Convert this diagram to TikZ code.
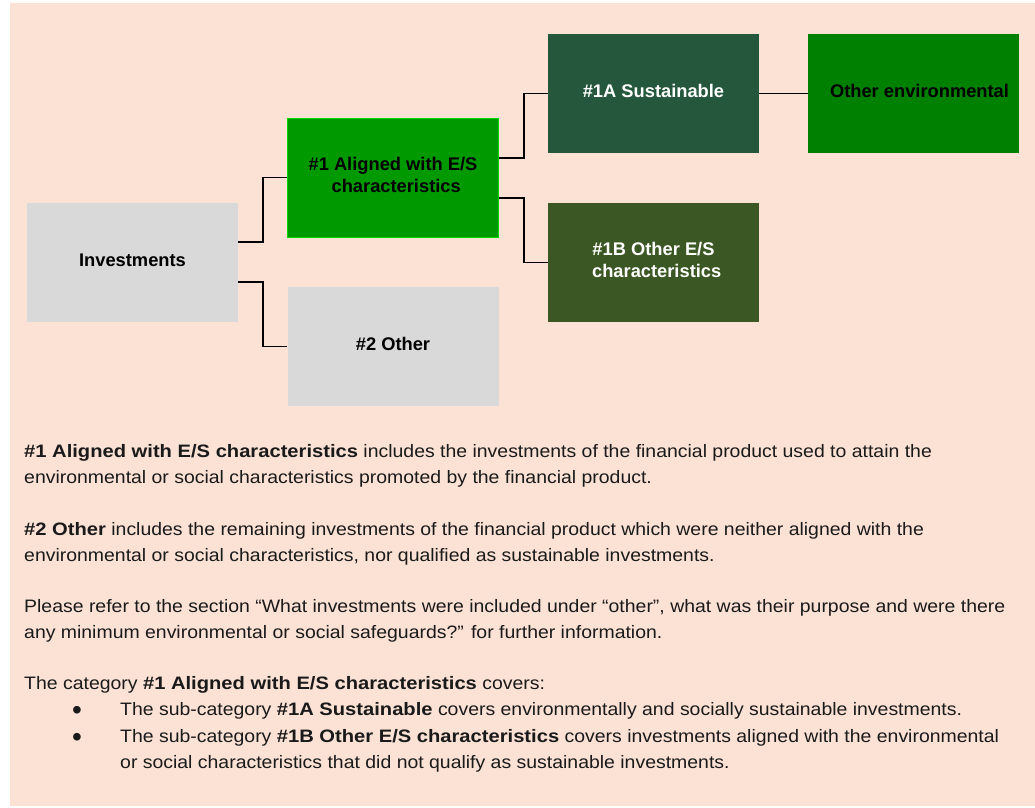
\documentclass[tikz,border=0pt]{standalone}
\usepackage{fontspec}
\setmainfont{Liberation Sans}
\newfontfamily\bodyfont{Liberation Sans}[FakeStretch=1.08, BoldFeatures={FakeStretch=1.12}]
\definecolor{peach}{RGB}{251,226,213}
\definecolor{boxgray}{RGB}{217,217,217}
\definecolor{greenA}{RGB}{0,153,0}
\definecolor{greenS}{RGB}{37,87,61}
\definecolor{greenB}{RGB}{59,87,36}
\definecolor{greenE}{RGB}{0,128,0}
\definecolor{ink}{RGB}{26,26,26}
\tikzset{
  box/.style={rectangle, minimum width=211pt, minimum height=119pt, inner sep=0pt,
    align=center, text depth=5pt, font=\fontsize{18.3}{22}\selectfont\bfseries},
  conn/.style={draw=black, line width=1.6pt},
  body/.style={anchor=base west, inner sep=0pt, text=ink, font=\bodyfont\fontsize{18}{26}\selectfont},
  dot/.style={anchor=base, inner sep=0pt, text=ink, font=\fontsize{28}{28}\selectfont},
}
\begin{document}
\begin{tikzpicture}[x=1pt,y=-1pt]
\useasboundingbox (0,0) rectangle (1035,807);
\fill[white] (0,0) rectangle (1035,807);
\fill[peach] (10,3) rectangle (1035,806);

% category boxes
\node[box, fill=boxgray] (inv) at (132.5,262.5) {Investments};
\node[box, fill=greenA, draw=green!60!greenA, line width=0.8pt] (a1) at (393,177.5)
  {\#1 Aligned with E/S\\\hspace*{0.35em}characteristics};
\node[box, fill=boxgray] (oth) at (393,346.5) {\#2 Other};
\node[box, fill=greenS, text=white] (s1a) at (653.5,93.5) {\#1A Sustainable};
\node[box, fill=greenB, text=white] (s1b) at (653.5,262.5)
  {\#1B Other E/S\\\hspace*{0.35em}characteristics};
\node[box, fill=greenE] (env) at (913.5,93.5) {\hspace*{12pt}Other environmental};

% elbow connectors
\draw[conn] ([yshift=20.5pt]inv.east) -- ++(25,0) |- (a1.west);
\draw[conn] ([yshift=-19.5pt]inv.east) -- ++(25,0) |- (oth.west);
\draw[conn] ([yshift=19.5pt]a1.east) -- ++(25,0) |- (s1a.west);
\draw[conn] ([yshift=-20.5pt]a1.east) -- ++(25,0) |- (s1b.west);
\draw[conn, line width=1.3pt] (s1a.east) -- (env.west);

% explanatory text
\node[body] (p1a) at (24,457) {\textbf{\#1 Aligned with E/S characteristics} includes the investments of the financial product used to attain the};
\node[body] (p1b) at (24,483) {environmental or social characteristics promoted by the financial product.};
\node[body] (p2a) at (24,535) {\textbf{\#2 Other} includes the remaining investments of the financial product which were neither aligned with the};
\node[body] (p2b) at (24,561) {environmental or social characteristics, nor qualified as sustainable investments.};
\node[body] (p3a) at (24,612) {Please refer to the section “What investments were included under “other”, what was their purpose and were there};
\node[body] (p3b) at (24,638) {any minimum environmental or social safeguards?” for further information.};
\node[body] (p4a) at (24,689) {The category \textbf{\#1 Aligned with E/S characteristics} covers:};
\node[dot] (b1) at (77,719) {•};
\node[body] (b1t) at (120,715) {The sub-category \textbf{\#1A Sustainable} covers environmentally and socially sustainable investments.};
\node[dot] (b2) at (77,746) {•};
\node[body] (b2t) at (120,742) {The sub-category \textbf{\#1B Other E/S characteristics} covers investments aligned with the environmental};
\node[body] (b2u) at (120,768) {or social characteristics that did not qualify as sustainable investments.};
\end{tikzpicture}
\end{document}
